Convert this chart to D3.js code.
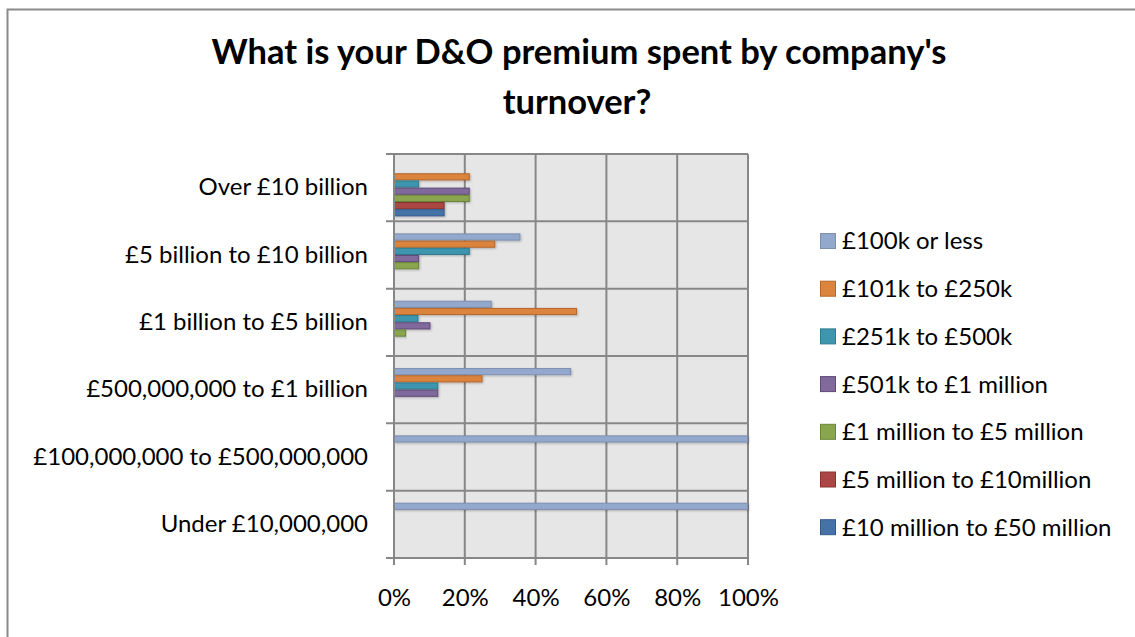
<!DOCTYPE html>
<html>
<head>
<meta charset="utf-8">
<script src="https://cdn.jsdelivr.net/npm/d3@7"></script>
<style>
  html, body { margin: 0; padding: 0; background: #ffffff; }
  svg { display: block; }
  text { font-family: Lato, "Open Sans", sans-serif; fill: #000; }
</style>
</head>
<body>
<svg id="chart" width="1135" height="637"></svg>
<script>
// Turnover bands, listed top to bottom as drawn
const categories = [
  "Over £10 billion",
  "£5 billion to £10 billion",
  "£1 billion to £5 billion",
  "£500,000,000 to £1 billion",
  "£100,000,000 to £500,000,000",
  "Under £10,000,000"
];

// Premium bands (legend order)
const seriesNames = [
  "£100k or less",
  "£101k to £250k",
  "£251k to £500k",
  "£501k to £1 million",
  "£1 million to £5 million",
  "£5 million to £10million",
  "£10 million to £50 million"
];

// Share of respondents (%) per turnover band, one array per premium band
const upTo100k     = [0, 35.7, 27.6, 50, 100, 100];
const k101to250    = [21.4, 28.6, 51.7, 25, 0, 0];
const k251to500    = [7.1, 21.4, 6.9, 12.5, 0, 0];
const k501to1m     = [21.4, 7.1, 10.3, 12.5, 0, 0];
const m1to5        = [21.4, 7.1, 3.4, 0, 0, 0];
const m5to10       = [14.3, 0, 0, 0, 0, 0];
const m10to50      = [14.3, 0, 0, 0, 0, 0];

const xTicks = [0, 20, 40, 60, 80, 100];

const seriesValues = [upTo100k, k101to250, k251to500, k501to1m, m1to5, m5to10, m10to50];
const fills   = ["#92A8CD", "#DB843D", "#3D96AE", "#80699B", "#89A54E", "#AA4643", "#4572A7"];
const strokes = ["#7F8FB0", "#B4672B", "#2E7A8E", "#5F4A7A", "#6B8538", "#8A3432", "#345A89"];

const labelSize = "24px";

const svg = d3.select("#chart");

// Chart frame (top and left edges)
svg.append("path")
  .attr("d", "M7.5,640 L7.5,9.5 L1140,9.5")
  .attr("fill", "none")
  .attr("stroke", "#8a8a8a")
  .attr("stroke-width", 2);

// Title
const title = svg.append("text")
  .attr("text-anchor", "middle")
  .style("font-weight", "bold")
  .style("font-size", "34.5px");
title.append("tspan").attr("x", 579).attr("y", 64).text("What is your D&O premium spent by company's");
title.append("tspan").attr("x", 577).attr("y", 114).text("turnover?");

const plot = { left: 394, right: 748, top: 154, bottom: 558 };

const x = d3.scaleLinear().domain([0, 100]).range([plot.left, plot.right]);
const y = d3.scaleBand().domain(categories).range([plot.top, plot.bottom]).paddingInner(0).paddingOuter(0);
const inner = d3.scaleBand()
  .domain(seriesNames)
  .range([y.bandwidth() * 0.179, y.bandwidth() * 0.926])
  .paddingInner(0);

const gridColor = "#878787";

// Plot background
svg.append("rect")
  .attr("x", plot.left).attr("y", plot.top)
  .attr("width", plot.right - plot.left).attr("height", plot.bottom - plot.top)
  .attr("fill", "#e6e6e6");

// Vertical gridlines (extend down as tick marks)
svg.append("g").selectAll("line")
  .data(xTicks)
  .join("line")
  .attr("x1", d => x(d)).attr("x2", d => x(d))
  .attr("y1", plot.top).attr("y2", plot.bottom + 7)
  .attr("stroke", gridColor).attr("stroke-width", 2);

// Horizontal lines at category boundaries (extend left as tick marks)
const boundaries = categories.map(c => y(c)).concat([plot.bottom]);
svg.append("g").selectAll("line")
  .data(boundaries)
  .join("line")
  .attr("x1", plot.left - 8).attr("x2", plot.right)
  .attr("y1", d => d).attr("y2", d => d)
  .attr("stroke", gridColor).attr("stroke-width", 2);

// Soft shadow for bars
const defs = svg.append("defs");
const f = defs.append("filter").attr("id", "barShadow")
  .attr("x", "-10%").attr("y", "-50%").attr("width", "120%").attr("height", "200%");
f.append("feDropShadow").attr("dx", 1).attr("dy", 1).attr("stdDeviation", 0.8)
  .attr("flood-color", "#000").attr("flood-opacity", 0.25);

// Bars
const barData = [];
seriesNames.forEach((s, i) => {
  categories.forEach((c, j) => {
    barData.push({ series: s, cat: c, value: seriesValues[i][j], i });
  });
});

svg.append("g").selectAll("rect")
  .data(barData.filter(d => d.value > 0))
  .join("rect")
  .attr("x", x(0) + 0.5)
  .attr("y", d => y(d.cat) + inner(d.series) + 0.5)
  .attr("width", d => x(d.value) - x(0) - 1)
  .attr("height", inner.bandwidth() - 1)
  .attr("fill", d => fills[d.i])
  .attr("stroke", d => strokes[d.i])
  .attr("stroke-width", 1)
  .attr("filter", "url(#barShadow)");

// Left axis line
svg.append("line")
  .attr("x1", plot.left).attr("x2", plot.left)
  .attr("y1", plot.top).attr("y2", plot.bottom + 7)
  .attr("stroke", gridColor).attr("stroke-width", 2);

// Category labels
const yAxis = svg.append("g")
  .attr("transform", `translate(${plot.left},0)`)
  .call(d3.axisLeft(y).tickSize(0).tickPadding(26));
yAxis.select(".domain").remove();
yAxis.selectAll("text")
  .style("font-size", labelSize)
  .style("font-family", "Lato, 'Open Sans', sans-serif")
  .attr("fill", "#000");

// Percentage labels
const xAxis = svg.append("g")
  .attr("transform", `translate(0,${plot.bottom})`)
  .call(d3.axisBottom(x).tickValues(xTicks).tickSize(7).tickPadding(24).tickFormat(d => d + "%"));
xAxis.select(".domain").remove();
xAxis.selectAll(".tick line").remove();
xAxis.selectAll("text")
  .style("font-size", labelSize)
  .style("font-family", "Lato, 'Open Sans', sans-serif")
  .attr("fill", "#000");

// Legend
const legend = svg.append("g");
const legendTop = 241, legendStep = 47.7;
const rows = legend.selectAll("g")
  .data(seriesNames)
  .join("g")
  .attr("transform", (d, i) => `translate(820,${legendTop + i * legendStep})`);
rows.append("rect")
  .attr("x", 0.5).attr("y", -7.5)
  .attr("width", 15).attr("height", 15)
  .attr("fill", (d, i) => fills[i])
  .attr("stroke", (d, i) => strokes[i])
  .attr("stroke-width", 1);
rows.append("text")
  .attr("x", 22).attr("y", 0).attr("dy", "0.35em")
  .style("font-size", labelSize)
  .text(d => d);
</script>
</body>
</html>
